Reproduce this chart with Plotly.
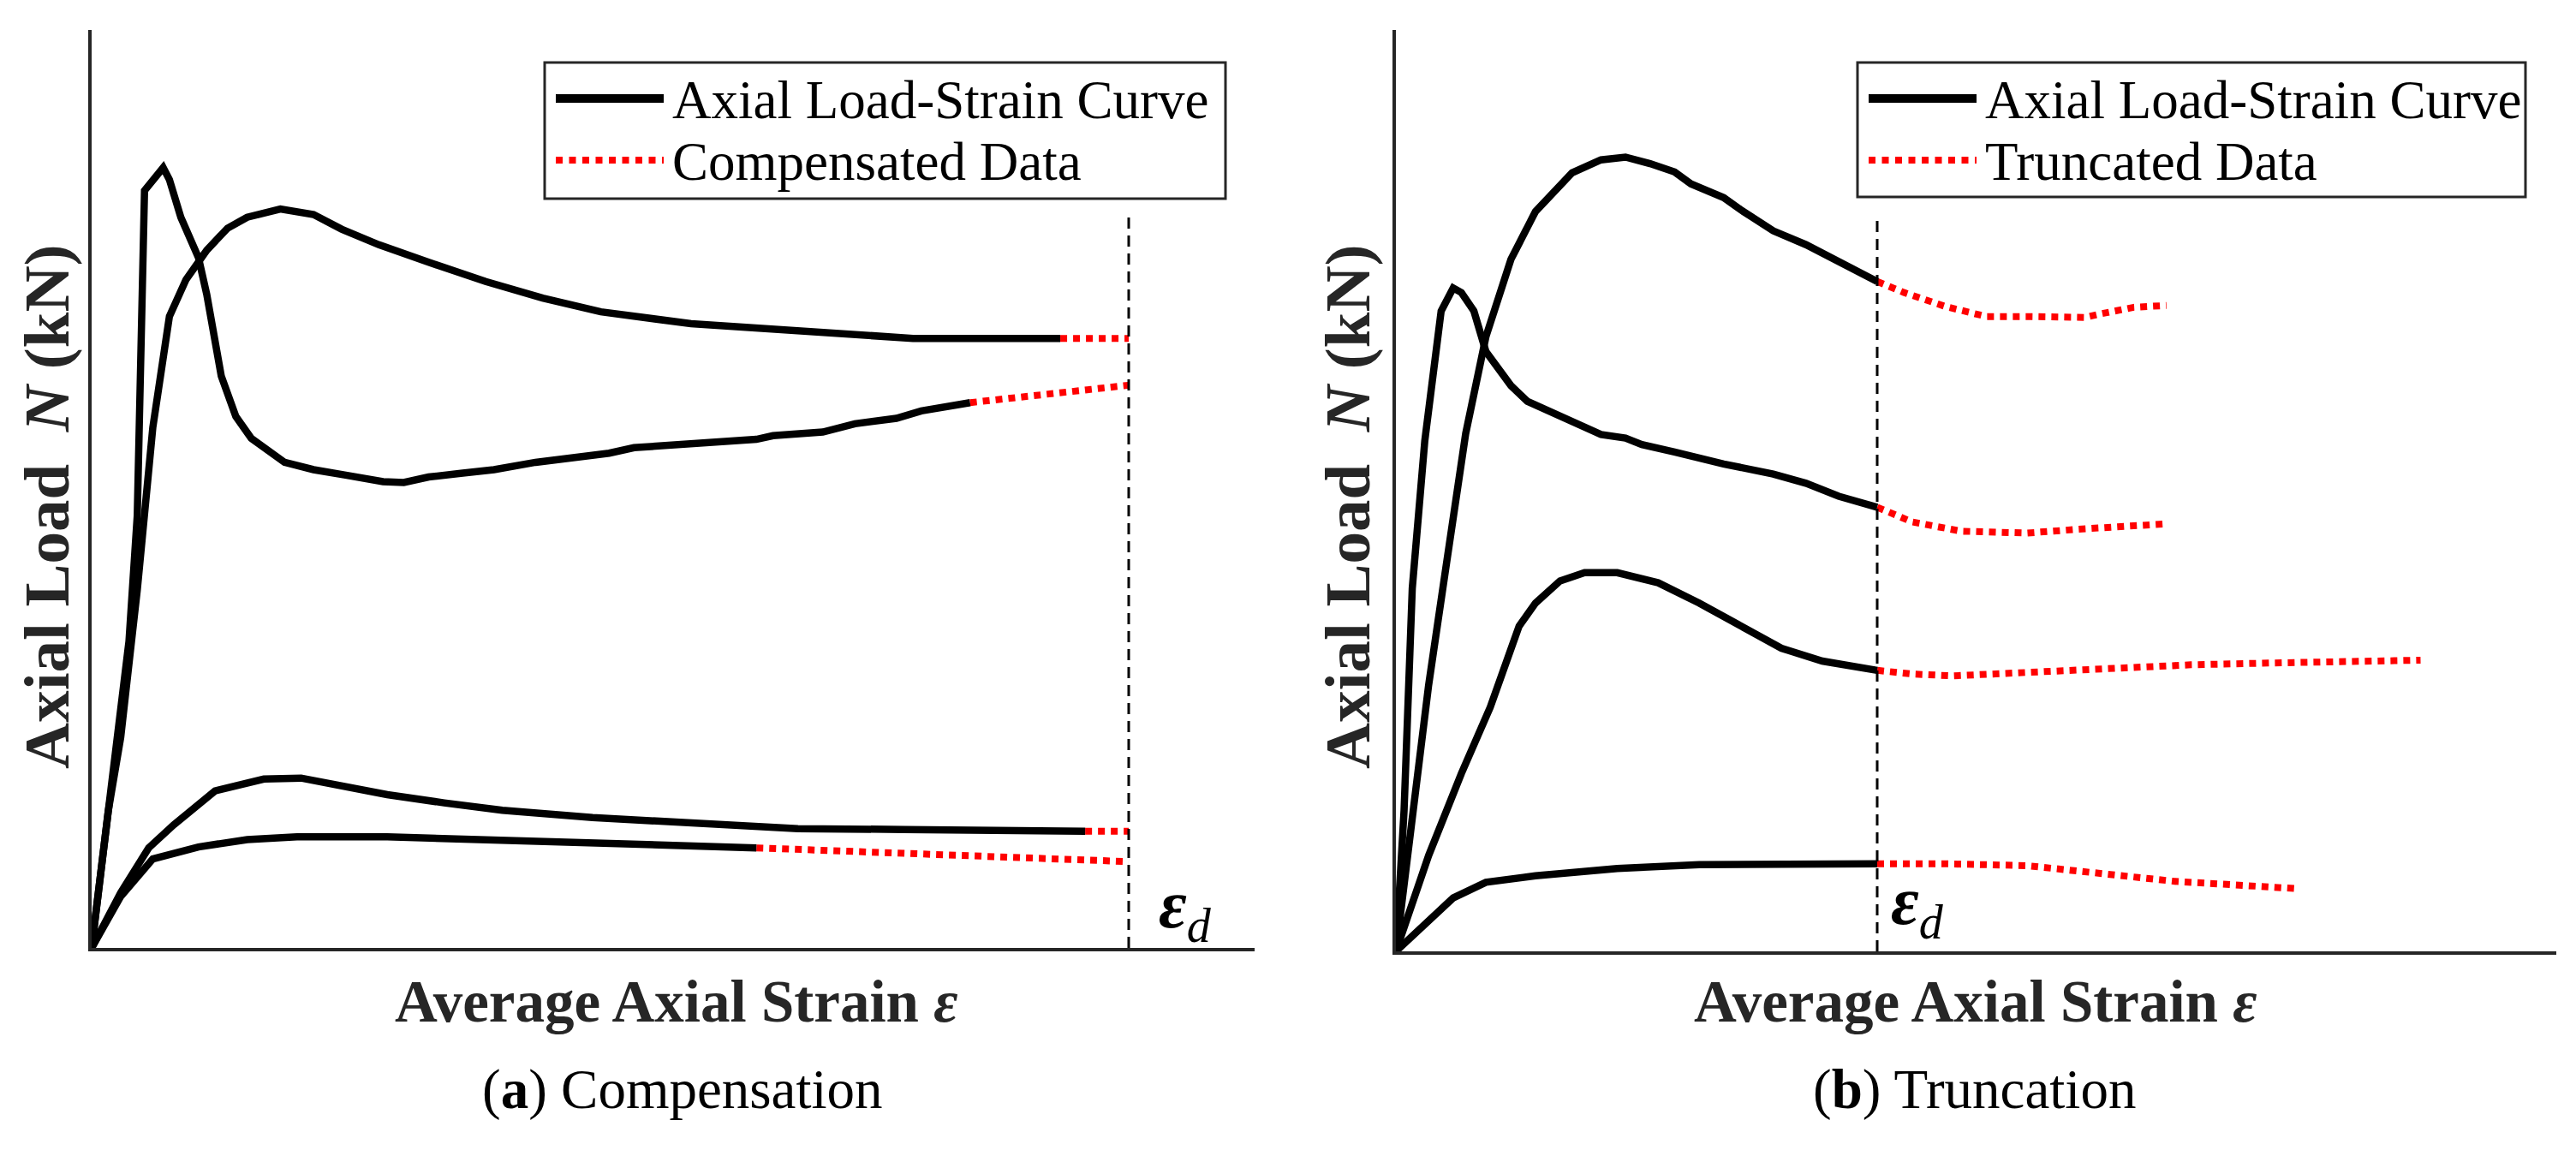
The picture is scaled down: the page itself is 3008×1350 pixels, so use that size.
import plotly.graph_objects as go

# ---------------- DATA (normalised strain: eps/eps_d ; load: % of axis height) ----------------
# Panel (a) Compensation
a1_x = [0, 0.024, 0.036, 0.044, 0.051, 0.069, 0.075, 0.086, 0.103, 0.111, 0.125, 0.139, 0.154, 0.186,
        0.214, 0.245, 0.281, 0.301, 0.325, 0.356, 0.388, 0.428, 0.467, 0.499, 0.523, 0.570, 0.586,
        0.641, 0.657, 0.705, 0.736, 0.776, 0.800, 0.847]
a1_y = [0, 21.3, 33.4, 47.1, 82.5, 85.0, 83.7, 79.6, 75.2, 71.2, 62.3, 57.9, 55.5, 52.9,
        52.1, 51.5, 50.8, 50.7, 51.3, 51.7, 52.1, 52.9, 53.5, 53.9, 54.5, 54.8, 55.1,
        55.4, 55.8, 56.2, 57.1, 57.7, 58.5, 59.4]
a1_cx = [0.847, 0.926, 1.0]
a1_cy = [59.4, 60.3, 61.3]

a2_x = [0, 0.016, 0.028, 0.044, 0.059, 0.075, 0.091, 0.111, 0.131, 0.150, 0.182, 0.214, 0.241,
        0.277, 0.325, 0.380, 0.435, 0.491, 0.578, 0.705, 0.792, 0.934]
a2_y = [0, 14.9, 22.9, 39.0, 56.7, 68.8, 72.8, 76.0, 78.4, 79.6, 80.5, 79.9, 78.3,
        76.6, 74.7, 72.6, 70.8, 69.3, 68.0, 67.0, 66.4, 66.4]
a2_cx = [0.934, 1.0]
a2_cy = [66.4, 66.4]

a3_x = [0, 0.028, 0.055, 0.079, 0.119, 0.166, 0.202, 0.245, 0.285, 0.340, 0.396, 0.483, 0.586,
        0.681, 0.784, 0.958]
a3_y = [0, 6.0, 10.9, 13.4, 17.1, 18.4, 18.5, 17.5, 16.7, 15.8, 15.0, 14.2, 13.5,
        13.0, 12.9, 12.7]
a3_cx = [0.958, 1.0]
a3_cy = [12.7, 12.7]

a4_x = [0, 0.028, 0.059, 0.103, 0.150, 0.198, 0.285, 0.388, 0.507, 0.641]
a4_y = [0, 5.6, 9.7, 11.0, 11.8, 12.1, 12.1, 11.8, 11.4, 10.9]
a4_cx = [0.641, 0.823, 1.0]
a4_cy = [10.9, 10.1, 9.4]

a_eps_d = 1.0
a_eps_d_top = 80.0

# Panel (b) Truncation
b1_x = [0, 0.034, 0.068, 0.102, 0.145, 0.187, 0.239, 0.290, 0.324, 0.366, 0.426, 0.477, 0.528,
        0.579, 0.613, 0.681, 0.716, 0.784, 0.852, 0.920, 1.0]
b1_y = [0, 15.3, 28.9, 41.0, 56.2, 66.7, 75.1, 80.3, 82.3, 84.5, 85.9, 86.2, 85.5,
        84.6, 83.3, 81.8, 80.5, 78.2, 76.7, 74.9, 72.7]
b1_tx = [1.0, 1.056, 1.141, 1.227, 1.312, 1.431, 1.465, 1.533, 1.601]
b1_ty = [72.7, 71.5, 70.0, 68.9, 68.9, 68.8, 69.2, 69.9, 70.1]

b2_x = [0, 0.017, 0.034, 0.060, 0.094, 0.119, 0.136, 0.162, 0.187, 0.239, 0.273, 0.341, 0.375,
        0.426, 0.477, 0.511, 0.579, 0.681, 0.784, 0.852, 0.920, 1.0]
b2_y = [0, 15.3, 39.4, 55.4, 69.5, 72.0, 71.5, 69.5, 65.1, 61.4, 59.7, 58.1, 57.4,
        56.1, 55.7, 55.0, 54.2, 52.9, 51.8, 50.8, 49.4, 48.2]
b2_tx = [1.0, 1.073, 1.175, 1.312, 1.414, 1.601]
b2_ty = [48.2, 46.6, 45.6, 45.4, 45.8, 46.4]

b3_x = [0, 0.068, 0.136, 0.196, 0.256, 0.290, 0.341, 0.392, 0.460, 0.545, 0.630, 0.715, 0.801,
        0.886, 1.0]
b3_y = [0, 10.4, 19.3, 26.5, 35.3, 37.8, 40.2, 41.1, 41.1, 40.0, 37.8, 35.3, 32.9,
        31.5, 30.5]
b3_tx = [1.0, 1.073, 1.158, 1.312, 1.482, 1.652, 1.823, 2.129]
b3_ty = [30.5, 30.1, 29.9, 30.3, 30.8, 31.1, 31.3, 31.6]

b4_x = [0, 0.051, 0.119, 0.187, 0.290, 0.460, 0.630, 1.0]
b4_y = [0, 2.4, 5.8, 7.5, 8.2, 9.0, 9.4, 9.5]
b4_tx = [1.0, 1.141, 1.312, 1.448, 1.618, 1.874]
b4_ty = [9.5, 9.5, 9.3, 8.6, 7.6, 6.8]

b_eps_d = 1.0
b_eps_d_top = 79.5

legend_a = ["Axial Load-Strain Curve", "Compensated Data"]
legend_b = ["Axial Load-Strain Curve", "Truncated Data"]
x_title = "<b>Average Axial Strain <i>ε</i></b>"
y_title = "<b>Axial Load  <i>N</i> (kN)</b>"
captions = ["(<b>a</b>) Compensation", "(<b>b</b>) Truncation"]

# ---------------- FIGURE ----------------
W, H = 3008, 1350
def fx(p):
    return p / W
def fy(p):
    return 1 - p / H

SERIF = "Liberation Serif, Times New Roman, serif"
AX = "#262626"
BLACK_W = 8.5
RED = "#ff0000"
RED_DASH = "8px,7px"

fig = go.Figure()

def solid(x, y, xa, ya):
    fig.add_trace(go.Scatter(x=x, y=y, mode="lines", xaxis=xa, yaxis=ya, showlegend=False,
                             line=dict(color="black", width=BLACK_W), hoverinfo="skip"))

def red(x, y, xa, ya):
    fig.add_trace(go.Scatter(x=x, y=y, mode="lines", xaxis=xa, yaxis=ya, showlegend=False,
                             line=dict(color=RED, width=8, dash=RED_DASH), hoverinfo="skip"))

for xs, ys, cx, cy in [(a1_x, a1_y, a1_cx, a1_cy), (a2_x, a2_y, a2_cx, a2_cy),
                       (a3_x, a3_y, a3_cx, a3_cy), (a4_x, a4_y, a4_cx, a4_cy)]:
    red(cx, cy, "x", "y")
    solid(xs, ys, "x", "y")

for xs, ys, tx, ty in [(b1_x, b1_y, b1_tx, b1_ty), (b2_x, b2_y, b2_tx, b2_ty),
                       (b3_x, b3_y, b3_tx, b3_ty), (b4_x, b4_y, b4_tx, b4_ty)]:
    red(tx, ty, "x2", "y2")
    solid(xs, ys, "x2", "y2")

axis_common = dict(showline=True, linecolor=AX, linewidth=4, showgrid=False, zeroline=False,
                   ticks="", showticklabels=False, fixedrange=True)

# panel pixel geometry
A_L, A_R, A_B, A_T = 107, 1465, 1107, 35
B_L, B_R, B_B, B_T = 1630, 2985, 1111, 35
a_xmax = (A_R - A_L) / (1318 - A_L)
b_xmax = (B_R - B_L) / (2192 - B_L)

fig.update_layout(
    width=W, height=H, margin=dict(l=0, r=0, t=0, b=0),
    paper_bgcolor="white", plot_bgcolor="white", showlegend=False,
    xaxis=dict(domain=[fx(A_L), fx(A_R)], range=[0, a_xmax], anchor="y", **axis_common),
    yaxis=dict(domain=[fy(A_B), fy(A_T)], range=[0, 100], anchor="x", **axis_common),
    xaxis2=dict(domain=[fx(B_L), fx(B_R)], range=[0, b_xmax], anchor="y2", **axis_common),
    yaxis2=dict(domain=[fy(B_B), fy(B_T)], range=[0, 100], anchor="x2", **axis_common),
)

shapes = []
# eps_d vertical dashed lines
shapes.append(dict(type="line", xref="x", yref="y", x0=a_eps_d, x1=a_eps_d, y0=0, y1=a_eps_d_top,
                   line=dict(color="black", width=3, dash="13px,8px")))
shapes.append(dict(type="line", xref="x2", yref="y2", x0=b_eps_d, x1=b_eps_d, y0=0, y1=b_eps_d_top,
                   line=dict(color="black", width=3, dash="13px,8px")))

annotations = []

def legend(box_l, box_r, box_t, box_b, labels):
    shapes.append(dict(type="rect", xref="paper", yref="paper", x0=fx(box_l), x1=fx(box_r),
                       y0=fy(box_b), y1=fy(box_t), line=dict(color=AX, width=3),
                       fillcolor="white", layer="above"))
    s0, s1 = box_l + 13, box_l + 139
    r1 = box_t + 42
    r2 = box_t + 114
    shapes.append(dict(type="line", xref="paper", yref="paper", x0=fx(s0), x1=fx(s1),
                       y0=fy(r1), y1=fy(r1), line=dict(color="black", width=10)))
    shapes.append(dict(type="line", xref="paper", yref="paper", x0=fx(s0), x1=fx(s1),
                       y0=fy(r2), y1=fy(r2), line=dict(color=RED, width=8, dash="8px,7.5px")))
    for lab, r in zip(labels, [r1, r2]):
        annotations.append(dict(xref="paper", yref="paper", x=fx(s1 + 8), y=fy(r + 2), text=lab,
                                showarrow=False, xanchor="left", yanchor="middle",
                                font=dict(family=SERIF, size=63, color="black")))

legend(636, 1431, 73, 232, legend_a)
legend(2169, 2949, 73, 230, legend_b)

# axis titles
for yx, xc in [(54, 790), (1573, 2307)]:
    annotations.append(dict(xref="paper", yref="paper", x=fx(yx), y=fy(592), text=y_title,
                            textangle=-90, showarrow=False, xanchor="center", yanchor="middle",
                            font=dict(family=SERIF, size=75, color=AX)))
    annotations.append(dict(xref="paper", yref="paper", x=fx(xc), y=fy(1170), text=x_title,
                            showarrow=False, xanchor="center", yanchor="middle",
                            font=dict(family=SERIF, size=69, color=AX)))

annotations.append(dict(xref="paper", yref="paper", x=fx(797), y=fy(1272), text=captions[0],
                        showarrow=False, xanchor="center", yanchor="middle",
                        font=dict(family=SERIF, size=65, color="black")))
annotations.append(dict(xref="paper", yref="paper", x=fx(2305), y=fy(1272), text=captions[1],
                        showarrow=False, xanchor="center", yanchor="middle",
                        font=dict(family=SERIF, size=65, color="black")))

eps_lab = "<b><i>ε</i></b><sub><i>d</i></sub>"
annotations.append(dict(xref="paper", yref="paper", x=fx(1351), y=fy(1062), text=eps_lab,
                        showarrow=False, xanchor="left", yanchor="middle",
                        font=dict(family=SERIF, size=80, color="black")))
annotations.append(dict(xref="paper", yref="paper", x=fx(2206), y=fy(1058), text=eps_lab,
                        showarrow=False, xanchor="left", yanchor="middle",
                        font=dict(family=SERIF, size=80, color="black")))

fig.update_layout(shapes=shapes, annotations=annotations)

fig.write_html("out.html", config={"displayModeBar": False},
               post_script="document.body.style.margin='0px';")
